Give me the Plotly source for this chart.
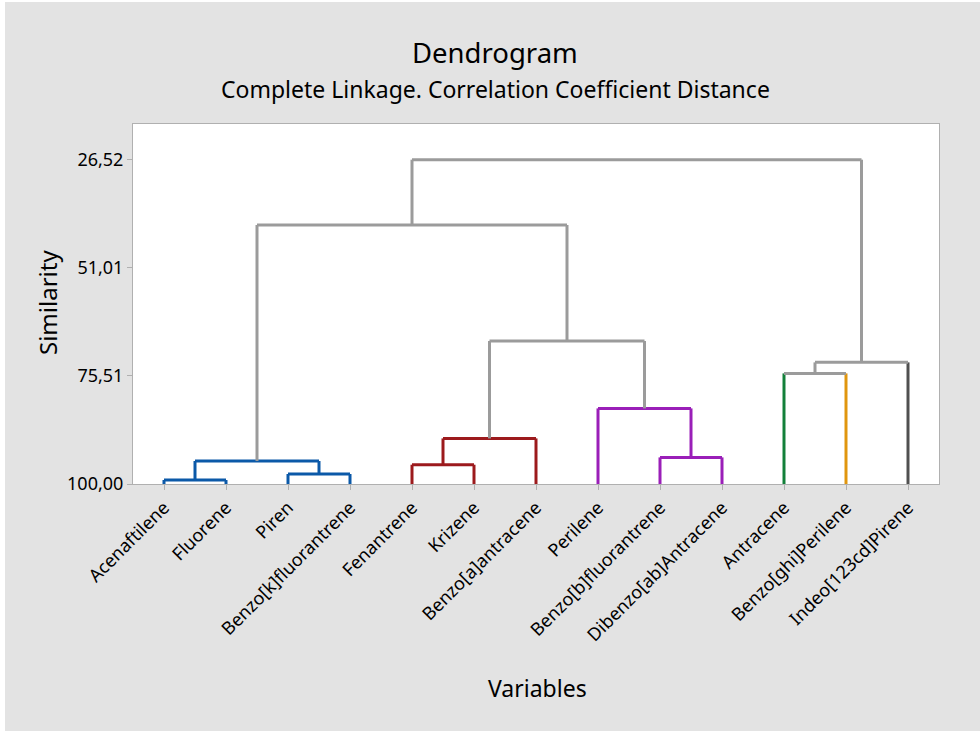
import plotly.graph_objects as go

# hojas del dendrograma, en el orden en que se dibujan
variables = ["Acenaftilene", "Fluorene", "Piren", "Benzo[k]fluorantrene",
             "Fenantrene", "Krizene", "Benzo[a]antracene", "Perilene",
             "Benzo[b]fluorantrene", "Dibenzo[ab]Antracene", "Antracene",
             "Benzo[ghi]Perilene", "Indeo[123cd]Pirene"]

# uniones: nodo izquierdo, nodo derecho, similitud (nodos nuevos = 13, 14, ...)
union_izq = [0, 2, 4, 13, 8, 15, 7, 10, 20, 18, 16, 23]
union_der = [1, 3, 5, 14, 9, 6, 17, 11, 12, 19, 22, 21]
similitud = [99.09, 97.73, 95.63, 94.79, 93.97, 89.67, 82.87, 74.94, 72.44, 67.60, 41.31, 26.52]

# color de cada nodo (hojas y luego nodos internos)
azul, rojo, violeta = "#0b59a8", "#9c1a1d", "#9a1fb8"
verde, naranja, oscuro, gris = "#13803a", "#e0960f", "#505050", "#9b9b9b"
color_nodo = [azul, azul, azul, azul, rojo, rojo, rojo, violeta, violeta, violeta,
              verde, naranja, oscuro,
              azul, azul, rojo, azul, violeta, rojo, violeta, gris, gris, gris, gris, gris]

ticks_y = [26.52, 51.01, 75.51, 100.00]
ticks_y_texto = ["26,52", "51,01", "75,51", "100,00"]

n = len(variables)
pos_x = list(range(n))
altura = [100.0] * n
for i in range(len(similitud)):
    a, b = union_izq[i], union_der[i]
    pos_x.append((pos_x[a] + pos_x[b]) / 2)
    altura.append(similitud[i])

fig = go.Figure()

def linea(xs, ys, color):
    fig.add_trace(go.Scatter(x=xs, y=ys, mode="lines", hoverinfo="skip",
                             line=dict(color=color, width=3), showlegend=False))

for i in range(len(similitud)):
    padre = n + i
    for hijo in (union_izq[i], union_der[i]):
        # las hojas llevan su color, el resto el color del padre
        c = color_nodo[hijo] if hijo < n else color_nodo[padre]
        linea([pos_x[hijo], pos_x[hijo]], [altura[hijo], altura[padre]], c)
    linea([pos_x[union_izq[i]], pos_x[union_der[i]]], [altura[padre], altura[padre]], color_nodo[padre])

fuente = "Noto Sans"

def texto(t, px_x, px_y, size, angulo=0):
    # posicion en pixeles de la imagen -> coordenadas paper (area de trazado 133..939 x 124..484)
    return dict(text=t, xref="paper", yref="paper", x=(px_x - 133) / 806, y=(484 - px_y) / 360,
                xanchor="center", yanchor="middle", textangle=angulo, showarrow=False,
                font=dict(size=size, family=fuente, color="black"))

fig.update_layout(
    width=980, height=731,
    margin=dict(l=133, r=41, t=124, b=247),
    paper_bgcolor="#e3e3e3", plot_bgcolor="white",
    font=dict(family=fuente, color="black", size=18),
    xaxis=dict(range=[-0.5, n - 0.5], tickmode="array", tickvals=list(range(n)),
               ticktext=variables, tickangle=-45, ticks="outside", ticklen=5,
               tickcolor="#b0b0b0", showgrid=False, zeroline=False,
               showline=True, mirror=True, linecolor="#b0b0b0", linewidth=1,
               tickfont=dict(size=18)),
    yaxis=dict(range=[100, 18.43], tickmode="array", tickvals=ticks_y,
               ticktext=ticks_y_texto, ticks="outside", ticklen=5,
               tickcolor="#b0b0b0", showgrid=False, zeroline=False,
               showline=True, mirror=True, linecolor="#b0b0b0", linewidth=1,
               tickfont=dict(size=18)),
    shapes=[dict(type="rect", xref="paper", yref="paper", x0=-0.2, x1=-0.1588,
                 y0=-1, y1=2, fillcolor="white", line_width=0, layer="below"),
            dict(type="rect", xref="paper", yref="paper", x0=-0.2, x1=1.2,
                 y0=1.339, y1=1.5, fillcolor="white", line_width=0, layer="below")],
    annotations=[
        texto("Dendrogram", 495, 52, 27.5),
        texto("Complete Linkage. Correlation Coefficient Distance", 495, 89, 23),
        texto("Variables", 537, 688, 23),
        texto("Similarity", 47, 303, 24, -90),
    ],
)

fig.write_html("out.html", config={"displayModeBar": False},
               post_script="document.body.style.margin='0';")
